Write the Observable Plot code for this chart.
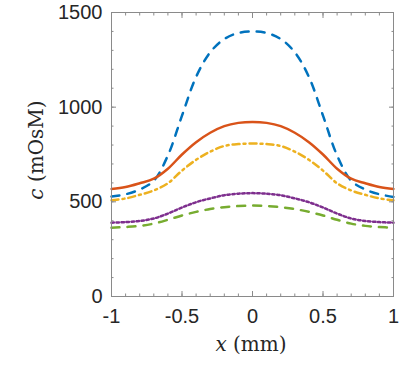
<!DOCTYPE html>
<html><head><meta charset="utf-8">
<script src="https://cdn.jsdelivr.net/npm/d3@7"></script>
<script src="https://cdn.jsdelivr.net/npm/@observablehq/plot@0.6"></script>
<style>body{margin:0;background:#fff}</style>
</head><body><div id="chart"></div>
<script>
const xs = [-1,-0.9,-0.8,-0.7,-0.6,-0.5,-0.4,-0.3,-0.2,-0.1,0,0.1,0.2,0.3,0.4,0.5,0.6,0.7,0.8,0.9,1];
const cBlue   = [528,540,565,612,745,955,1160,1290,1360,1392,1400,1392,1360,1290,1160,955,745,612,565,540,526];
const cOrange = [568,578,598,622,675,750,815,865,900,917,922,917,900,865,815,750,675,622,598,578,568];
const cYellow = [508,518,537,560,598,665,722,765,795,805,808,805,795,765,722,665,598,560,537,518,508];
const cPurple = [390,393,399,412,438,470,498,518,535,543,546,543,535,518,498,470,438,412,399,393,390];
const cGreen  = [363,367,373,385,405,428,447,462,472,478,480,478,472,462,447,428,405,385,373,367,363];
const seriesValues = [cBlue, cOrange, cYellow, cPurple, cGreen];
const seriesColors = ["#0072BD","#D95319","#EDB120","#7E2F8E","#77AC30"];
const seriesDash = ["8,8", null, "7,4,2,4", "2.5,2.5", "8,8"];
const yMajor = [0,500,1000,1500];
const yMajorLabels = ["0","500","1000","1500"];
const yMinor = [0,100,200,300,400,500,600,700,800,900,1000,1100,1200,1300,1400,1500];
const xMajor = [-1,-0.5,0,0.5,1];
const xMajorLabels = ["-1","-0.5","0","0.5","1"];
const xMinor = [-1,-0.9,-0.8,-0.7,-0.6,-0.5,-0.4,-0.3,-0.2,-0.1,0,0.1,0.2,0.3,0.4,0.5,0.6,0.7,0.8,0.9,1];

const axisColor = "#8a8a8a";
const lineMarks = seriesValues.map((vals, k) =>
  Plot.line(xs.map((x, i) => ({x, c: vals[i]})), {
    x: "x", y: "c", stroke: seriesColors[k], strokeWidth: 2.5,
    strokeDasharray: seriesDash[k], curve: "catmull-rom"
  }));

const tickMarks = [];
for (const anchor of ["left","right"]) {
  tickMarks.push(Plot.axisY(yMajor, {anchor, tickSize: -5, tickFormat: () => "", label: null, stroke: axisColor}));
  tickMarks.push(Plot.axisY(yMinor, {anchor, tickSize: -2.5, tickFormat: () => "", label: null, stroke: axisColor}));
}
for (const anchor of ["bottom","top"]) {
  tickMarks.push(Plot.axisX(xMajor, {anchor, tickSize: -5, tickFormat: () => "", label: null, stroke: axisColor}));
  tickMarks.push(Plot.axisX(xMinor, {anchor, tickSize: -2.5, tickFormat: () => "", label: null, stroke: axisColor}));
}

const plot = Plot.plot({
  width: 407, height: 370,
  marginLeft: 111, marginRight: 14, marginTop: 12, marginBottom: 74,
  x: {domain: [-1, 1]},
  y: {domain: [0, 1500]},
  style: {fontFamily: "'Liberation Sans', Arial, sans-serif", fontSize: "20px", color: "#262626", background: "#fff", overflow: "visible"},
  marks: [
    ...lineMarks,
    Plot.frame({stroke: axisColor, strokeWidth: 1}),
    ...tickMarks,
    Plot.axisY(yMajor, {anchor: "left", tickSize: 0, tickPadding: 9, label: null, fontSize: 20, fill: "#262626",
      tickFormat: d => yMajorLabels[yMajor.indexOf(d)]}),
    Plot.axisX(xMajor, {anchor: "bottom", tickSize: 0, tickPadding: 12, label: null, fontSize: 20, fill: "#262626",
      tickFormat: d => xMajorLabels[xMajor.indexOf(d)]})
  ]
});
document.getElementById("chart").appendChild(plot);

const svg = d3.select(plot);
const xl = svg.append("text")
  .attr("x", 251).attr("y", 351).attr("text-anchor", "middle")
  .attr("fill", "#262626")
  .style("font-family", "'DejaVu Serif', serif").style("font-size", "20px");
xl.append("tspan").style("font-style", "italic").text("x");
xl.append("tspan").text(" (mm)");
const yl = svg.append("text")
  .attr("transform", "translate(43,150) rotate(-90)").attr("text-anchor", "middle")
  .attr("fill", "#262626")
  .style("font-family", "'DejaVu Serif', serif").style("font-size", "20px");
yl.append("tspan").style("font-style", "italic").text("c");
yl.append("tspan").text(" (mOsM)");
</script>
</body></html>
